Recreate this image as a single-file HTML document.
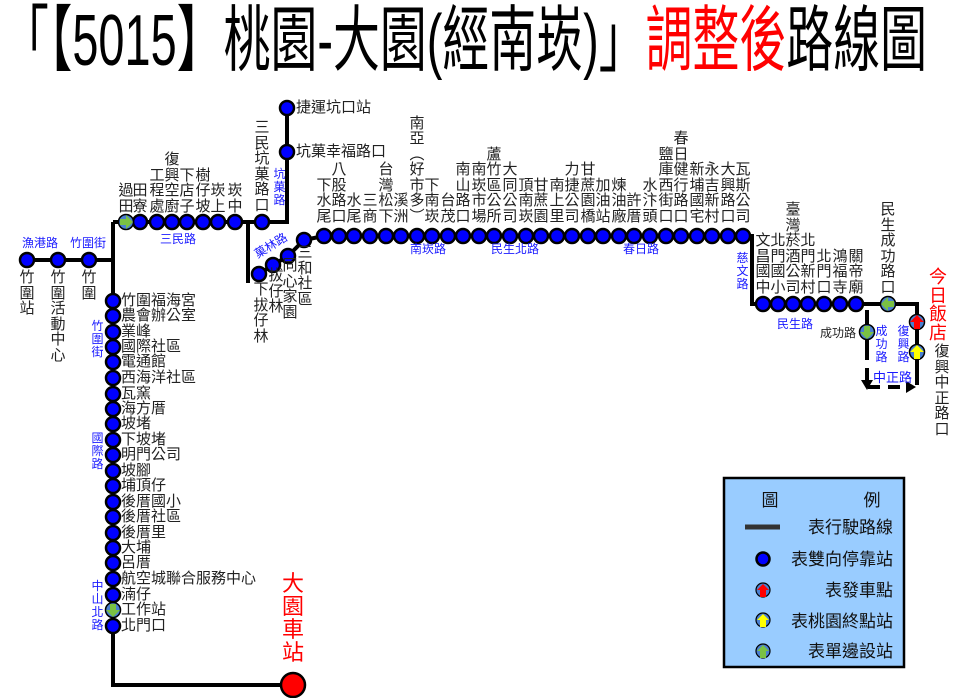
<!DOCTYPE html>
<html><head><meta charset="utf-8">
<style>
body{margin:0;background:#fff;}
#w{position:relative;width:960px;height:698px;overflow:hidden;font-family:"Liberation Sans","Noto Sans CJK TC",sans-serif;}
.v{position:absolute;width:16px;font-size:15px;line-height:15.5px;text-align:center;color:#222;word-break:break-all;}
.h{position:absolute;font-size:15px;line-height:15.5px;color:#222;white-space:nowrap;}
.b{color:#1a1aff;font-size:12px;line-height:12.5px;}
.bv{position:absolute;width:13px;font-size:12px;line-height:13px;text-align:center;color:#1a1aff;word-break:break-all;}
</style></head><body><div id="w">
<svg width="960" height="698" style="position:absolute;left:0;top:0">
<text x="2" y="64" font-size="60" textLength="925" lengthAdjust="spacingAndGlyphs" font-family="Liberation Sans,Noto Sans CJK TC,sans-serif" transform="translate(0,-12) scale(1,1.2)">「【5015】桃園-大園(經南崁)」<tspan fill="#ff0000">調整後</tspan>路線圖</text>
<g stroke="#000" stroke-width="4" fill="none">
<polyline points="27,260 113,260"/>
<polyline points="113,222 113,685 293,685"/>
<polyline points="113,222 287,222 287,108"/>
<polyline points="248,222 248,283"/>
<polyline points="259,274 273,265 288,256 304,240 324,236 752,236 752,304 917,304 917,385"/>
<polyline points="867,310 867,360"/>
</g>
<g stroke="#000" stroke-width="4" fill="none" stroke-dasharray="12,8">
<polyline points="867,368 867,387 910,387"/>
</g>
<polygon points="861,380 873,380 867,390" fill="#000"/>
<polygon points="906,381 916,387 906,393" fill="#000"/>
<g fill="#0000ff" stroke="#000" stroke-width="2.5">
<circle cx="27" cy="260" r="7"/><circle cx="58" cy="260" r="7"/><circle cx="89" cy="260" r="7"/>
<circle cx="140" cy="222" r="7"/><circle cx="157" cy="222" r="7"/><circle cx="172" cy="222" r="7"/><circle cx="187" cy="222" r="7"/><circle cx="203" cy="222" r="7"/><circle cx="218" cy="222" r="7"/><circle cx="235" cy="222" r="7"/><circle cx="262" cy="222" r="7"/>
<circle cx="287" cy="108" r="7"/><circle cx="287" cy="152" r="7"/>
<circle cx="259" cy="274" r="7"/><circle cx="273" cy="265" r="7"/><circle cx="288" cy="256" r="7"/><circle cx="304" cy="240" r="7"/>
<circle cx="324" cy="236" r="7"/><circle cx="339" cy="236" r="7"/><circle cx="354" cy="236" r="7"/><circle cx="370" cy="236" r="7"/><circle cx="386" cy="236" r="7"/><circle cx="401" cy="236" r="7"/><circle cx="417" cy="236" r="7"/><circle cx="432" cy="236" r="7"/><circle cx="448" cy="236" r="7"/><circle cx="463" cy="236" r="7"/><circle cx="479" cy="236" r="7"/><circle cx="494" cy="236" r="7"/><circle cx="510" cy="236" r="7"/><circle cx="526" cy="236" r="7"/><circle cx="541" cy="236" r="7"/><circle cx="557" cy="236" r="7"/><circle cx="572" cy="236" r="7"/><circle cx="588" cy="236" r="7"/><circle cx="603" cy="236" r="7"/><circle cx="619" cy="236" r="7"/><circle cx="634" cy="236" r="7"/><circle cx="650" cy="236" r="7"/><circle cx="666" cy="236" r="7"/><circle cx="681" cy="236" r="7"/><circle cx="697" cy="236" r="7"/><circle cx="712" cy="236" r="7"/><circle cx="728" cy="236" r="7"/><circle cx="743" cy="236" r="7"/>
<circle cx="763" cy="304" r="7"/><circle cx="778" cy="304" r="7"/><circle cx="793" cy="304" r="7"/><circle cx="808" cy="304" r="7"/><circle cx="824" cy="304" r="7"/><circle cx="840" cy="304" r="7"/><circle cx="856" cy="304" r="7"/>
<circle cx="113" cy="301" r="7"/><circle cx="113" cy="316" r="7"/><circle cx="113" cy="332" r="7"/><circle cx="113" cy="347" r="7"/><circle cx="113" cy="362" r="7"/><circle cx="113" cy="378" r="7"/><circle cx="113" cy="394" r="7"/><circle cx="113" cy="409" r="7"/><circle cx="113" cy="424" r="7"/><circle cx="113" cy="440" r="7"/><circle cx="113" cy="455" r="7"/><circle cx="113" cy="471" r="7"/><circle cx="113" cy="486" r="7"/><circle cx="113" cy="502" r="7"/><circle cx="113" cy="517" r="7"/><circle cx="113" cy="533" r="7"/><circle cx="113" cy="548" r="7"/><circle cx="113" cy="563" r="7"/><circle cx="113" cy="579" r="7"/><circle cx="113" cy="595" r="7"/><circle cx="113" cy="626" r="7"/>
</g>
<circle cx="293" cy="685" r="12" fill="#ff0000" stroke="#000" stroke-width="2.5"/>
<g stroke="#000" stroke-width="1.5" fill="#4a7fd0">
<circle cx="126" cy="222" r="7.5"/><circle cx="113" cy="610" r="7.5"/><circle cx="888" cy="304" r="7.5"/><circle cx="867" cy="332" r="7.5"/><circle cx="917" cy="322" r="7.5"/><circle cx="917" cy="352" r="7.5"/>
</g>
<polygon points="119,222 126,215 126,219 132,219 132,225 126,225 126,229" fill="#7ac143" transform="rotate(180 126 222)"/>
<polygon points="113,617 106,610 110,610 110,604 116,604 116,610 120,610" fill="#7ac143"/>
<polygon points="881,304 888,297 888,301 894,301 894,307 888,307 888,311" fill="#7ac143"/>
<polygon points="867,339 860,332 864,332 864,326 870,326 870,332 874,332" fill="#7ac143"/>
<polygon points="917,315 910,322 914,322 914,329 920,329 920,322 924,322" fill="#ff0000"/>
<polygon points="917,345 910,352 914,352 914,359 920,359 920,352 924,352" fill="#ffff00"/>
<rect x="724" y="478" width="180" height="189" fill="#99ccff" stroke="#000" stroke-width="2.5"/>
<line x1="745" y1="527" x2="780" y2="527" stroke="#333" stroke-width="5"/>
<circle cx="763" cy="559" r="6.5" fill="#0000ff" stroke="#000" stroke-width="2.5"/>
<circle cx="763" cy="590" r="7" fill="#4a7fd0" stroke="#000" stroke-width="1.2"/>
<polygon points="763,584 757,590 760,590 760,597 766,597 766,590 769,590" fill="#ff0000"/>
<circle cx="763" cy="620" r="7" fill="#4a7fd0" stroke="#000" stroke-width="1.2"/>
<polygon points="763,614 757,620 760,620 760,627 766,627 766,620 769,620" fill="#ffff00"/>
<circle cx="763" cy="651" r="7" fill="#4a7fd0" stroke="#000" stroke-width="1.2"/>
<polygon points="763,645 757,651 760,651 760,658 766,658 766,651 769,651" fill="#7ac143"/>
<g font-size="17" fill="#111" font-family="Liberation Sans,Noto Sans CJK TC,sans-serif" text-anchor="end">
<text x="770" y="506" text-anchor="middle">圖</text><text x="872" y="506" text-anchor="middle">例</text>
<text x="893" y="533">表行駛路線</text>
<text x="893" y="565">表雙向停靠站</text>
<text x="893" y="596">表發車點</text>
<text x="893" y="627">表桃園終點站</text>
<text x="893" y="657">表單邊設站</text>
</g>
<text x="273" y="249" font-size="12" fill="#1a1aff" transform="rotate(-32 273 249)" text-anchor="middle" font-family="Liberation Sans,Noto Sans CJK TC,sans-serif">菓林路</text>
</svg>

<div class="h b" style="left:22px;top:237px">漁港路</div>
<div class="h b" style="left:70px;top:237px">竹圍街</div>
<div class="h b" style="left:160px;top:233px">三民路</div>
<div class="h b" style="left:410px;top:243px">南崁路</div>
<div class="h b" style="left:491px;top:243px">民生北路</div>
<div class="h b" style="left:623px;top:243px">春日路</div>
<div class="h b" style="left:777px;top:318px">民生路</div>
<div class="h" style="left:820px;top:326px;font-size:12px">成功路</div>
<div class="h b" style="left:873px;top:372px;font-size:13px">中正路</div>
<div class="bv" style="left:273px;top:168px">坑菓路</div>
<div class="bv" style="left:736px;top:252px">慈文路</div>
<div class="bv" style="left:875px;top:325px">成功路</div>
<div class="bv" style="left:897px;top:325px">復興路</div>
<div class="bv" style="left:91px;top:320px">竹圍街</div>
<div class="bv" style="left:91px;top:432px">國際路</div>
<div class="bv" style="left:91px;top:580px">中山北路</div>

<div class="v" style="left:19px;top:270px">竹圍站</div>
<div class="v" style="left:50px;top:270px">竹圍活動中心</div>
<div class="v" style="left:81px;top:270px">竹圍</div>

<div class="v" style="left:118px;bottom:484px">過田</div>
<div class="v" style="left:132px;bottom:484px">田寮</div>
<div class="v" style="left:149px;bottom:484px">工程處</div>
<div class="v" style="left:164px;bottom:484px">復興空廚</div>
<div class="v" style="left:179px;bottom:484px">下店子</div>
<div class="v" style="left:195px;bottom:484px">樹仔坡</div>
<div class="v" style="left:210px;bottom:484px">崁上</div>
<div class="v" style="left:227px;bottom:484px">崁中</div>
<div class="v" style="left:254px;bottom:485px">三民坑菓路口</div>
<div class="h" style="left:296px;top:100px">捷運坑口站</div>
<div class="h" style="left:296px;top:144px">坑菓幸福路口</div>

<div class="v" style="left:253px;top:282px">下拔仔林</div>
<div class="v" style="left:268px;top:268px">拔仔林</div>
<div class="v" style="left:282px;top:258px">同心家園</div>
<div class="v" style="left:297px;top:245px">三和社區</div>

<div class="v" style="left:316px;bottom:474px">下水尾</div>
<div class="v" style="left:331px;bottom:474px">八股路口</div>
<div class="v" style="left:346px;bottom:474px">水尾</div>
<div class="v" style="left:362px;bottom:474px">三商</div>
<div class="v" style="left:378px;bottom:474px">台灣松下</div>
<div class="v" style="left:393px;bottom:474px">溪洲</div>
<div class="v" style="left:409px;bottom:474px">南<br>亞<br>︵<br>好<br>市<br>多<br>︶</div>
<div class="v" style="left:424px;bottom:474px">下南崁</div>
<div class="v" style="left:440px;bottom:474px">台茂</div>
<div class="v" style="left:455px;bottom:474px">南山路口</div>
<div class="v" style="left:471px;bottom:474px">南崁市場</div>
<div class="v" style="left:486px;bottom:474px">蘆竹區公所</div>
<div class="v" style="left:502px;bottom:474px">大同公司</div>
<div class="v" style="left:518px;bottom:474px">頂南崁</div>
<div class="v" style="left:533px;bottom:474px">甘蔗園</div>
<div class="v" style="left:549px;bottom:474px">南上里</div>
<div class="v" style="left:564px;bottom:474px">力捷公司</div>
<div class="v" style="left:580px;bottom:474px">甘蔗園橋</div>
<div class="v" style="left:595px;bottom:474px">加油站</div>
<div class="v" style="left:611px;bottom:474px">煉油廠</div>
<div class="v" style="left:626px;bottom:474px">許厝</div>
<div class="v" style="left:642px;bottom:474px">水汴頭</div>
<div class="v" style="left:658px;bottom:474px">鹽庫西街口</div>
<div class="v" style="left:673px;bottom:474px">春日健行路口</div>
<div class="v" style="left:689px;bottom:474px">新埔國宅</div>
<div class="v" style="left:704px;bottom:474px">永吉新村</div>
<div class="v" style="left:720px;bottom:474px">大興路口</div>
<div class="v" style="left:735px;bottom:474px">瓦斯公司</div>

<div class="v" style="left:755px;bottom:403px">文昌國中</div>
<div class="v" style="left:770px;bottom:403px">北門國小</div>
<div class="v" style="left:785px;bottom:403px">臺灣菸酒公司</div>
<div class="v" style="left:800px;bottom:403px">北門新村</div>
<div class="v" style="left:816px;bottom:403px">北門口</div>
<div class="v" style="left:832px;bottom:403px">鴻福寺</div>
<div class="v" style="left:848px;bottom:403px">關帝廟</div>
<div class="v" style="left:880px;bottom:403px">民生成功路口</div>

<div class="v" style="left:928px;top:268px;width:20px;font-size:18px;line-height:18.5px;color:#ff0000">今日飯店</div>
<div class="v" style="left:934px;top:344px">復興中正路口</div>
<div class="v" style="left:281px;top:572px;width:24px;font-size:22px;line-height:23px;color:#ff0000">大園車站</div>

<div class="h" style="left:121px;top:293px">竹圍福海宮</div>
<div class="h" style="left:121px;top:308px">農會辦公室</div>
<div class="h" style="left:121px;top:324px">業峰</div>
<div class="h" style="left:121px;top:339px">國際社區</div>
<div class="h" style="left:121px;top:354px">電通館</div>
<div class="h" style="left:121px;top:370px">西海洋社區</div>
<div class="h" style="left:121px;top:386px">瓦窯</div>
<div class="h" style="left:121px;top:401px">海方厝</div>
<div class="h" style="left:121px;top:416px">坡堵</div>
<div class="h" style="left:121px;top:432px">下坡堵</div>
<div class="h" style="left:121px;top:447px">明門公司</div>
<div class="h" style="left:121px;top:463px">坡腳</div>
<div class="h" style="left:121px;top:478px">埔頂仔</div>
<div class="h" style="left:121px;top:494px">後厝國小</div>
<div class="h" style="left:121px;top:509px">後厝社區</div>
<div class="h" style="left:121px;top:525px">後厝里</div>
<div class="h" style="left:121px;top:540px">大埔</div>
<div class="h" style="left:121px;top:555px">呂厝</div>
<div class="h" style="left:121px;top:571px">航空城聯合服務中心</div>
<div class="h" style="left:121px;top:587px">湳仔</div>
<div class="h" style="left:121px;top:602px">工作站</div>
<div class="h" style="left:121px;top:618px">北門口</div>
</div></body></html>
